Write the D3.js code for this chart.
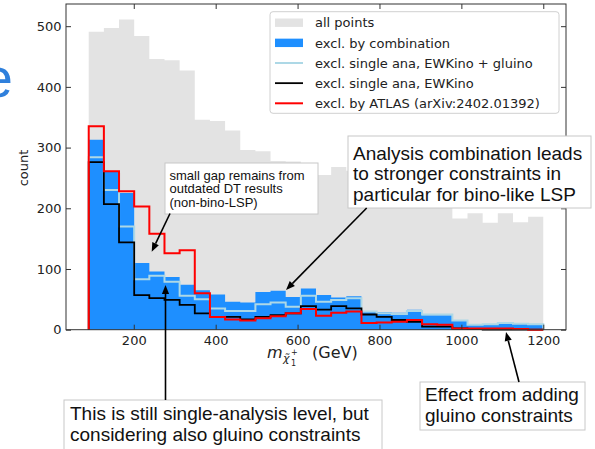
<!DOCTYPE html>
<html><head><meta charset="utf-8">
<script src="https://cdn.jsdelivr.net/npm/d3@7"></script>
<style>body{margin:0;background:#fff} svg{display:block}</style>
</head><body>
<svg id="c" width="595" height="449"></svg>
<script>
// ---- data ----
const binEdges = [90,127,164,201,238,275,312,349,386,423,460,497,534,571,608,645,682,719,756,793,830,867,904,941,978,1015,1052,1089,1126,1163,1200];
const allPoints = [491,497,511,484,446,444,427,346,344,328,296,294,278,277,270,255,268,262,252,246,236,228,220,210,183,192,176,192,177,186];
const exclCombination = [313,260,225,110,96,87,74,65,58,46,45,62,64,54,68,57,53,55,31,29,28,33,24,24,15,8,9,11,10,9];
const exclSingleEWKinoGluino = [284,230,170,83,89,79,56,50,35,31,31,42,45,38,56,46,49,52,30,27,26,31,25,25,15,8,9,11,10,9];
const exclSingleEWKino = [276,207,144,57,52,49,41,27,21,21,17,21,24,27,39,33,39,35,25,21,16,13,5,5,2,1,0,0,0,0];
const exclATLAS = [335,261,228,203,158,126,131,60,21,17,15,19,22,27,34,23,28,30,11,12,13,16,9,8,2,2,2,2,1,0];
const xTicks = [200,400,600,800,1000,1200];
const yTicks = [0,100,200,300,400,500];
const legendLabels = ["all points","excl. by combination","excl. single ana, EWKino + gluino","excl. single ana, EWKino","excl. by ATLAS (arXiv:2402.01392)"];
const note1 = ["small gap remains from","outdated DT results","(non-bino-LSP)"];
const note2 = ["Analysis combination leads","to stronger constraints in","particular for bino-like LSP"];
const note3 = ["This is still single-analysis level, but","considering also gluino constraints"];
const note4 = ["Effect from adding","gluino constraints"];

// ---- layout ----
const L=66, R=566, T=4, B=329.7;
const svg = d3.select("#c");
const x = d3.scaleLinear().domain([34.5,1255.5]).range([L,R]);
const y = d3.scaleLinear().domain([0,536.55]).range([B,T]);
const FONT = "DejaVu Sans, sans-serif";
const AFONT = "Liberation Sans, Arial, Helvetica, sans-serif";
const fmt = d3.format("d");

function stepPts(vals){
  const p=[[binEdges[0],0]];
  vals.forEach((v,i)=>{p.push([binEdges[i],v]);p.push([binEdges[i+1],v]);});
  p.push([binEdges[vals.length],0]);
  return p;
}
const area = d3.area().x(d=>x(d[0])).y0(y(0)).y1(d=>y(d[1]));
const line = d3.line().x(d=>x(d[0])).y(d=>y(d[1]));

// blue "e" from slide (cut off at the edge)
svg.append("text").attr("x",13).attr("y",97).attr("text-anchor","end")
  .attr("font-family",AFONT).attr("font-size",56).attr("fill","#2f80dc").text("e");

const g = svg.append("g");
g.append("path").attr("d",area(stepPts(allPoints))).attr("fill","#e3e3e3");
g.append("path").attr("d",area(stepPts(exclCombination))).attr("fill","#1e8fff");
g.append("path").attr("d",line(stepPts(exclSingleEWKinoGluino))).attr("fill","none").attr("stroke","#add8e6").attr("stroke-width",2);
g.append("path").attr("d",line(stepPts(exclSingleEWKino))).attr("fill","none").attr("stroke","#000").attr("stroke-width",1.8);
g.append("path").attr("d",line(stepPts(exclATLAS))).attr("fill","none").attr("stroke","#ff0000").attr("stroke-width",2);

// axes
const axB = svg.append("g").attr("transform",`translate(0,${B})`)
  .call(d3.axisBottom(x).tickValues(xTicks).tickSizeInner(-5).tickSizeOuter(0).tickPadding(6.5).tickFormat(fmt));
const axT = svg.append("g").attr("transform",`translate(0,${T})`)
  .call(d3.axisTop(x).tickValues(xTicks).tickSizeInner(-5).tickSizeOuter(0).tickFormat(""));
const axL = svg.append("g").attr("transform",`translate(${L},0)`)
  .call(d3.axisLeft(y).tickValues(yTicks).tickSizeInner(-5).tickSizeOuter(0).tickPadding(4.5).tickFormat(fmt));
const axR = svg.append("g").attr("transform",`translate(${R},0)`)
  .call(d3.axisRight(y).tickValues(yTicks).tickSizeInner(-5).tickSizeOuter(0).tickFormat(""));
[axB,axT,axL,axR].forEach(a=>{
  a.select(".domain").remove();
  a.selectAll("line").attr("stroke","#333");
  a.selectAll("text").attr("font-family",FONT).attr("font-size",13).attr("fill","#222");
});
svg.append("rect").attr("x",L).attr("y",T).attr("width",R-L).attr("height",B-T)
  .attr("fill","none").attr("stroke","#333").attr("stroke-width",1);

// axis labels
svg.append("text").attr("transform","translate(28,168) rotate(-90)").attr("text-anchor","middle")
  .attr("font-family",FONT).attr("font-size",13).attr("fill","#222").text("count");
const xl = svg.append("g").attr("font-family",FONT).attr("fill","#222");
const xc = (L+R)/2;
xl.append("text").attr("x",xc-49).attr("y",358).attr("font-size",16).attr("font-style","italic").text("m");
xl.append("text").attr("x",xc-33).attr("y",362).attr("font-size",11).attr("font-style","italic").text("χ̃");
xl.append("text").attr("x",xc-25).attr("y",366).attr("font-size",8).text("1");
xl.append("text").attr("x",xc-25).attr("y",355).attr("font-size",8).text("+");
xl.append("text").attr("x",xc-4).attr("y",358).attr("font-size",16).text("(GeV)");

// legend
const lg = svg.append("g");
lg.append("rect").attr("x",270).attr("y",11.7).attr("width",289).attr("height",101.6).attr("rx",3)
  .attr("fill","#fff").attr("fill-opacity",0.85).attr("stroke","#d0d0d0");
const rowY = i => 22.7 + i*20.15;
lg.append("rect").attr("x",275).attr("y",rowY(0)-4.2).attr("width",28).attr("height",8.4).attr("fill","#e3e3e3");
lg.append("rect").attr("x",275).attr("y",rowY(1)-4.2).attr("width",28).attr("height",8.4).attr("fill","#1e8fff");
[["#add8e6",2],["#000",1.8],["#ff0000",2]].forEach((s,k)=>{
  lg.append("line").attr("x1",275).attr("x2",303).attr("y1",rowY(k+2)).attr("y2",rowY(k+2))
    .attr("stroke",s[0]).attr("stroke-width",s[1]);
});
legendLabels.forEach((t,i)=>{
  lg.append("text").attr("x",315).attr("y",rowY(i)+4.7).attr("font-family",FONT).attr("font-size",13)
    .attr("fill","#222").text(t);
});

// annotations
function box(x0,y0,w,h,lines,fs,tx,ty0,dy){
  const b = svg.append("g");
  b.append("rect").attr("x",x0).attr("y",y0).attr("width",w).attr("height",h)
    .attr("fill","#fff").attr("stroke","#c8c8c8").attr("stroke-width",1);
  lines.forEach((t,i)=>b.append("text").attr("x",tx).attr("y",ty0+i*dy)
    .attr("font-family",AFONT).attr("font-size",fs).attr("fill","#111").text(t));
}
function arrow(x1,y1,x2,y2){
  const a = Math.atan2(y2-y1,x2-x1), hl=9, hw=3.6;
  const bx = x2-hl*Math.cos(a), by = y2-hl*Math.sin(a);
  svg.append("line").attr("x1",x1).attr("y1",y1).attr("x2",bx).attr("y2",by)
    .attr("stroke","#000").attr("stroke-width",1.6);
  const px=-Math.sin(a)*hw, py=Math.cos(a)*hw;
  svg.append("path").attr("d",`M${x2},${y2}L${bx+px},${by+py}L${bx-px},${by-py}Z`).attr("fill","#000");
}
box(165,163,153,51,note1,13,169.5,179.5,13.8);
arrow(170,213.5,151.7,251.7);
box(348,136,243,72,note2,19,353,160,20.4);
arrow(366.7,208,286,290);
box(64,400,318,60,note3,19,70,419.5,21);
arrow(165.5,400,165.5,285);
box(420,382,165,48,note4,19,425,400.5,21.4);
arrow(519,382,506,332);
</script>
</body></html>
